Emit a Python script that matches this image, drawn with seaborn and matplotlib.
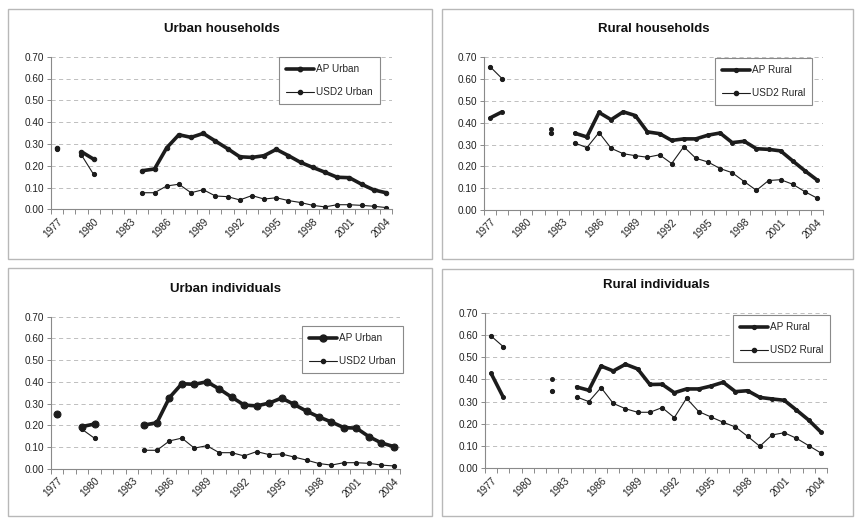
import numpy as np
import pandas as pd
import matplotlib
matplotlib.use('Agg')
import matplotlib.pyplot as plt
from matplotlib.patches import Rectangle
from matplotlib.lines import Line2D
import seaborn as sns

nan = np.nan

# category axis: one slot per year
years = list(range(1977, 2005))
tick_years = years[::3]

# Urban households
ap_urban_hh = [0.280, nan, 0.264, 0.230, nan, nan, nan,
               0.177, 0.185, 0.282, 0.342, 0.330, 0.348, 0.313, 0.278, 0.241, 0.238, 0.246,
               0.275, 0.246, 0.215, 0.192, 0.170, 0.147, 0.145, 0.115, 0.089, 0.076]
usd2_urban_hh = [0.276, nan, 0.249, 0.160, nan, nan, nan,
                 0.076, 0.076, 0.107, 0.115, 0.076, 0.090, 0.061, 0.058, 0.043, 0.063, 0.047,
                 0.053, 0.040, 0.031, 0.018, 0.011, 0.021, 0.021, 0.018, 0.014, 0.008]

# Rural households
ap_rural_hh = [0.422, 0.450, nan, nan, nan, 0.373, nan,
               0.352, 0.335, 0.447, 0.414, 0.450, 0.433, 0.358, 0.350, 0.319, 0.326, 0.326,
               0.343, 0.353, 0.309, 0.315, 0.281, 0.278, 0.271, 0.225, 0.180, 0.138]
usd2_rural_hh = [0.657, 0.602, nan, nan, nan, 0.352, nan,
                 0.307, 0.286, 0.355, 0.283, 0.258, 0.249, 0.242, 0.253, 0.213, 0.290, 0.237,
                 0.220, 0.190, 0.171, 0.130, 0.090, 0.135, 0.139, 0.118, 0.084, 0.055]

# Urban individuals
ap_urban_ind = [0.255, nan, 0.195, 0.207, nan, nan, nan,
                0.202, 0.213, 0.328, 0.392, 0.389, 0.401, 0.368, 0.330, 0.294, 0.290, 0.303,
                0.326, 0.297, 0.266, 0.239, 0.216, 0.190, 0.188, 0.149, 0.120, 0.103]
usd2_urban_ind = [0.250, nan, 0.182, 0.141, nan, nan, nan,
                  0.086, 0.086, 0.129, 0.142, 0.096, 0.107, 0.075, 0.075, 0.060, 0.080, 0.066,
                  0.069, 0.055, 0.041, 0.025, 0.018, 0.029, 0.029, 0.026, 0.018, 0.014]

# Rural individuals
ap_rural_ind = [0.427, 0.319, nan, nan, nan, 0.400, nan,
                0.366, 0.351, 0.460, 0.438, 0.468, 0.447, 0.377, 0.378, 0.340, 0.357, 0.357,
                0.370, 0.387, 0.345, 0.349, 0.319, 0.312, 0.306, 0.262, 0.217, 0.163]
usd2_rural_ind = [0.595, 0.547, nan, nan, nan, 0.348, nan,
                  0.321, 0.300, 0.363, 0.292, 0.268, 0.252, 0.252, 0.273, 0.228, 0.315, 0.255,
                  0.231, 0.207, 0.186, 0.144, 0.099, 0.150, 0.160, 0.135, 0.102, 0.069]

sns.set_theme(style='white')
plt.rcParams['font.family'] = ['Liberation Sans', 'DejaVu Sans']

W, H = 856, 518
fig = plt.figure(figsize=(W / 100, H / 100), dpi=100)
ink = '#1c1c1c'
axis_gray = '#8a8a8a'


def fx(px):
    return px / W


def fy(py):
    return 1 - py / H


# outer boxes around each chart (pixel coords: x0, y0, x1, y1)
for x0, y0, x1, y1 in [(8, 9, 432, 259), (442, 9, 853, 259),
                       (8, 268, 432, 516), (442, 269, 853, 516)]:
    fig.add_artist(Rectangle((fx(x0), fy(y1)), fx(x1) - fx(x0), fy(y0) - fy(y1),
                             transform=fig.transFigure, fill=False,
                             edgecolor='#b8b8b8', lw=1.0))


def to_frame(values):
    # split series into connected runs so gaps stay open
    seg, run, gap = [], 0, True
    for v in values:
        if np.isnan(v):
            gap = True
        elif gap:
            run += 1
            gap = False
        seg.append(run)
    return pd.DataFrame({'year': years, 'value': values, 'seg': seg}).dropna()


panels = [
    ('Urban households', ap_urban_hh, usd2_urban_hh, 'AP Urban', 'USD2 Urban',
     (51, 56.7, 392, 209.3), (279, 57), 3.2),
    ('Rural households', ap_rural_hh, usd2_rural_hh, 'AP Rural', 'USD2 Rural',
     (484, 57.3, 823, 210), (715, 58), 2.8),
    ('Urban individuals', ap_urban_ind, usd2_urban_ind, 'AP Urban', 'USD2 Urban',
     (51, 316.7, 400, 469), (302, 326), 5.0),
    ('Rural individuals', ap_rural_ind, usd2_rural_ind, 'AP Rural', 'USD2 Rural',
     (485, 312.7, 827, 468.3), (733, 315), 2.8),
]

for title, ap, usd, ap_lab, usd_lab, (l, t, r, b), (lx, ly), ap_ms in panels:
    ax = fig.add_axes([fx(l), fy(b), fx(r) - fx(l), fy(t) - fy(b)])

    sns.lineplot(data=to_frame(ap), x='year', y='value', units='seg', estimator=None,
                 color=ink, lw=2.6, marker='o', markersize=ap_ms,
                 markeredgecolor=ink, ax=ax, legend=False)
    sns.lineplot(data=to_frame(usd), x='year', y='value', units='seg', estimator=None,
                 color=ink, lw=0.8, marker='o', markersize=3.0,
                 markeredgecolor=ink, ax=ax, legend=False)

    ax.set_xlim(years[0] - 0.5, years[-1] + 0.5)
    ax.set_ylim(0, 0.7)
    ax.set_yticks(np.arange(0, 0.71, 0.1))
    ax.set_yticklabels([f'{v:.2f}' for v in np.arange(0, 0.71, 0.1)], fontsize=7.2)
    ax.set_xticks(tick_years)
    ax.set_xticklabels([str(y) for y in tick_years], rotation=45, ha='right',
                       rotation_mode='anchor', fontsize=7.2)
    ax.set_xticks(np.arange(years[0] - 0.5, years[-1] + 1), minor=True)
    ax.tick_params(axis='x', which='major', length=0, pad=5, colors='#202020')
    ax.tick_params(axis='x', which='minor', length=3.5, width=0.7, color=axis_gray,
                   direction='out', bottom=True)
    ax.tick_params(axis='y', length=3, width=0.7, color=axis_gray, direction='out',
                   left=True, pad=2, labelcolor='#202020')
    ax.set_xlabel('')
    ax.set_ylabel('')

    ax.grid(axis='y', color='#b4b4b4', lw=0.6, linestyle=(0, (5, 4)))
    ax.grid(axis='x', visible=False)
    ax.set_axisbelow(True)
    for side in ['top', 'right']:
        ax.spines[side].set_visible(False)
    for side in ['left', 'bottom']:
        ax.spines[side].set_color(axis_gray)
        ax.spines[side].set_linewidth(0.8)

    ax.set_title(title, fontsize=9.5, fontweight='bold', pad=18, color='#111111')

    handles = [Line2D([], [], color=ink, lw=2.6, marker='o', markersize=ap_ms),
               Line2D([], [], color=ink, lw=0.8, marker='o', markersize=3.0)]
    leg = ax.legend(handles, [ap_lab, usd_lab], loc='upper left',
                    bbox_to_anchor=(fx(lx), fy(ly)), bbox_transform=fig.transFigure,
                    fontsize=7.2, frameon=True, fancybox=False, framealpha=1,
                    labelspacing=1.3, handlelength=2.8, handletextpad=0.2,
                    borderpad=0.7, borderaxespad=0)
    leg.get_frame().set_edgecolor('#8a8a8a')
    leg.get_frame().set_linewidth(0.8)

fig.savefig('out.png', dpi=100)
